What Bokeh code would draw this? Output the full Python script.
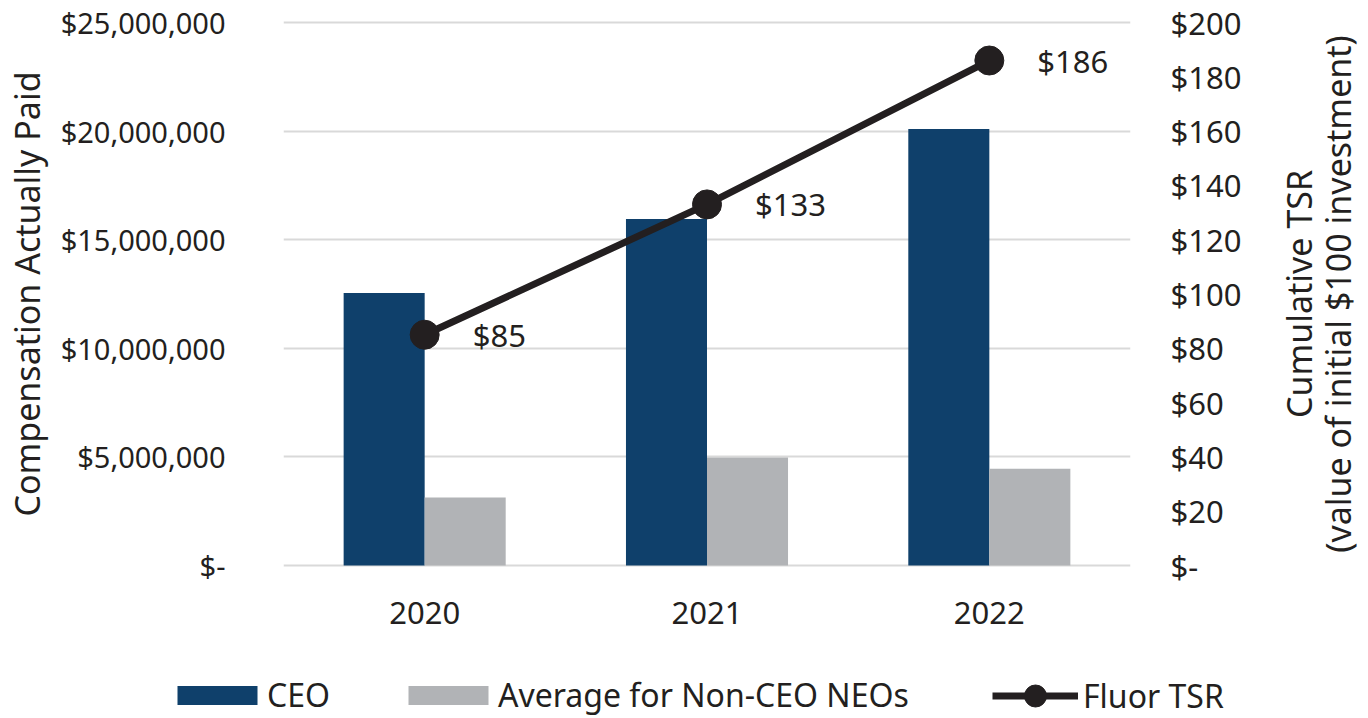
import math
from bokeh.plotting import figure
from bokeh.layouts import row, column
from bokeh.models import (FactorRange, Range1d, LinearAxis, FixedTicker, Legend,
                          LegendItem, ColumnDataSource)
from bokeh.transform import dodge
from bokeh.core.properties import value
from bokeh.embed import file_html
from bokeh.resources import INLINE

# ---- data ----
years = ["2020", "2021", "2022"]
ceo_cap = [12550000, 15950000, 20100000]
neo_cap = [3130000, 4970000, 4460000]
fluor_tsr = [85, 133, 186]
tsr_labels = ["$85", "$133", "$186"]

comp_ticks = [0, 5000000, 10000000, 15000000, 20000000, 25000000]
comp_tick_labels = ["$-", "$5,000,000", "$10,000,000", "$15,000,000", "$20,000,000", "$25,000,000"]
tsr_ticks = [0, 20, 40, 60, 80, 100, 120, 140, 160, 180, 200]
tsr_tick_labels = ["$-", "$20", "$40", "$60", "$80", "$100", "$120", "$140", "$160", "$180", "$200"]

series_names = ["CEO", "Average for Non-CEO NEOs", "Fluor TSR"]
left_title = "Compensation Actually Paid"
right_title_1 = "Cumulative TSR"
right_title_2 = "(value of initial $100 investment)"

NAVY = "#0f406b"
GRAY = "#b1b3b6"
INK = "#231f20"
FONT = "Noto Sans"

comp_max = comp_ticks[-1]
tsr_max = tsr_ticks[-1]
pad = 2.0 / 543.0  # small padding so the edge grid lines stay visible

MAIN_W, MAIN_H = 1270, 650
TITLE_W = 98
LEG_H = 68
TOP, BOTTOM = 20, 567

src = ColumnDataSource(dict(year=years, ceo=ceo_cap, neo=neo_cap, tsr=fluor_tsr, lbl=tsr_labels))


def bare_axis(ax):
    ax.axis_line_color = None
    ax.major_tick_line_color = None
    ax.minor_tick_line_color = None
    ax.major_label_text_font = FONT
    ax.major_label_text_color = INK
    ax.axis_label_text_font = FONT
    ax.axis_label_text_font_style = "normal"
    ax.axis_label_text_color = INK


p = figure(x_range=FactorRange(*years),
           y_range=Range1d(-comp_max * pad, comp_max * (1 + pad)),
           width=MAIN_W, height=MAIN_H, output_backend="svg", toolbar_location=None,
           min_border_left=283, min_border_right=MAIN_W - 1130, min_border_top=TOP,
           min_border_bottom=MAIN_H - BOTTOM)
p.extra_y_ranges = {"tsr": Range1d(-tsr_max * pad, tsr_max * (1 + pad))}
p.outline_line_color = None
p.background_fill_color = "white"
p.border_fill_color = "white"

bw = 0.287
r_ceo = p.vbar(x=dodge("year", -bw / 2, range=p.x_range), top="ceo", width=bw, bottom=0,
               source=src, fill_color=NAVY, line_color=None)
r_neo = p.vbar(x=dodge("year", bw / 2, range=p.x_range), top="neo", width=bw, bottom=0,
               source=src, fill_color=GRAY, line_color=None)
r_line = p.line(x="year", y="tsr", source=src, y_range_name="tsr", line_width=7, line_color=INK)
r_pts = p.scatter(x="year", y="tsr", source=src, y_range_name="tsr", size=29,
                  fill_color=INK, line_color=INK)
p.text(x="year", y="tsr", text="lbl", source=src, y_range_name="tsr", x_offset=48,
       text_baseline="middle", text_align="left", text_font_size="31px",
       text_font=value(FONT), text_color=INK)

# x axis
xa = p.xaxis[0]
bare_axis(xa)
xa.major_label_text_font_size = "31px"
xa.major_label_standoff = 28

# left axis
ya = p.yaxis[0]
bare_axis(ya)
ya.ticker = FixedTicker(ticks=comp_ticks)
ya.major_label_overrides = {t: l for t, l in zip(comp_ticks, comp_tick_labels)}
ya.major_label_text_font_size = "29px"
ya.major_label_standoff = 52
ya.axis_label = left_title
ya.axis_label_text_font_size = "34px"
ya.axis_label_standoff = 8

# right axis
ra = LinearAxis(y_range_name="tsr", ticker=FixedTicker(ticks=tsr_ticks))
bare_axis(ra)
ra.major_label_overrides = {t: l for t, l in zip(tsr_ticks, tsr_tick_labels)}
ra.major_label_text_font_size = "31px"
ra.major_label_standoff = 34
p.add_layout(ra, "right")

p.xgrid.grid_line_color = None
p.ygrid.ticker = FixedTicker(ticks=comp_ticks)
p.ygrid.grid_line_color = "#d9d9d9"
p.ygrid.grid_line_width = 2

# ---- right title panel: two label-only axes, read bottom to top ----
t = figure(width=TITLE_W, height=MAIN_H, x_range=Range1d(0, 1), y_range=Range1d(0, 1),
           output_backend="svg", toolbar_location=None, x_axis_location=None,
           y_axis_location=None, min_border_left=TITLE_W - 1, min_border_right=0,
           min_border_top=TOP, min_border_bottom=MAIN_H - BOTTOM)
t.outline_line_color = None
t.xgrid.grid_line_color = None
t.ygrid.grid_line_color = None
t.background_fill_alpha = 0
t.border_fill_alpha = 0
for txt, sd in [(right_title_2, 7), (right_title_1, -10)]:
    ax = LinearAxis(ticker=FixedTicker(ticks=[]))
    bare_axis(ax)
    ax.major_tick_out = 0
    ax.major_tick_in = 0
    ax.major_label_standoff = 0
    ax.axis_label = txt
    ax.axis_label_text_font_size = "34px"
    ax.axis_label_standoff = sd
    t.add_layout(ax, "left")

# ---- legend panel (glyphs come from the same data, kept far below the view) ----
lg = figure(width=MAIN_W + TITLE_W, height=LEG_H, x_range=FactorRange(*years),
            y_range=Range1d(2e8, 3e8), output_backend="svg", toolbar_location=None,
            x_axis_location=None, y_axis_location=None, min_border=0)
lg.outline_line_color = None
lg.xgrid.grid_line_color = None
lg.ygrid.grid_line_color = None
l_ceo = lg.vbar(x="year", top="ceo", bottom=0, width=0.2, source=src, fill_color=NAVY, line_color=None)
l_neo = lg.vbar(x="year", top="neo", bottom=0, width=0.2, source=src, fill_color=GRAY, line_color=None)
l_line = lg.line(x="year", y="tsr", source=src, line_width=7, line_color=INK)
l_pts = lg.scatter(x="year", y="tsr", source=src, size=22, fill_color=INK, line_color=INK)

common = dict(orientation="horizontal", padding=0, margin=0, border_line_color=None,
              background_fill_alpha=0, label_text_font=FONT, label_text_font_size="32px",
              label_text_color=INK, label_text_baseline="middle")
leg1 = Legend(items=[LegendItem(label=series_names[0], renderers=[l_ceo]),
                     LegendItem(label=series_names[1], renderers=[l_neo])],
              location=(167, 2), glyph_width=100, glyph_height=24, label_standoff=0,
              spacing=68, **common)
leg2 = Legend(items=[LegendItem(label=series_names[2], renderers=[l_line, l_pts])],
              location=(992, -5), glyph_width=86, glyph_height=55, label_standoff=5,
              spacing=0, **common)
lg.add_layout(leg1)
lg.add_layout(leg2)

layout = column(row(p, t, spacing=0), lg, spacing=0)
open("out.html", "w").write(file_html(layout, INLINE))
